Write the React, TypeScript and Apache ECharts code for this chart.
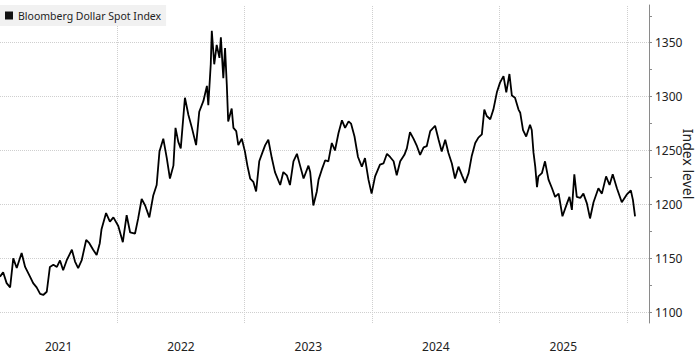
import React, { useEffect, useRef } from "react";
import * as echarts from "echarts";

const SERIES_NAME = "Bloomberg Dollar Spot Index";
const Y_AXIS_TITLE = "Index level";
const X_START = "2021-01-30";
const X_END = "2026-03-05";
const Y_MIN = 1090;
const Y_MAX = 1385;

const yearLabels = ["2021", "2022", "2023", "2024", "2025"];
const yearGridDates = ["2022-01-01", "2023-01-01", "2024-01-01", "2025-01-01", "2026-01-01"];
const yMajorTicks = [1100, 1150, 1200, 1250, 1300, 1350];
const yMinorTicks = [1125, 1175, 1225, 1275, 1325, 1375];

const dates = [
  "2021-01-30", "2021-02-08", "2021-02-18", "2021-02-28", "2021-03-09", "2021-03-19", "2021-04-02", "2021-04-12",
  "2021-04-26", "2021-05-05", "2021-05-15", "2021-05-25", "2021-06-03", "2021-06-13", "2021-06-22", "2021-07-02",
  "2021-07-12", "2021-07-21", "2021-07-30", "2021-08-09", "2021-08-24", "2021-09-02", "2021-09-11", "2021-09-21",
  "2021-10-04", "2021-10-13", "2021-10-24", "2021-11-03", "2021-11-12", "2021-11-17", "2021-11-30", "2021-12-11",
  "2021-12-21", "2022-01-04", "2022-01-17", "2022-01-28", "2022-02-07", "2022-02-21", "2022-03-02", "2022-03-12",
  "2022-03-22", "2022-04-03", "2022-04-14", "2022-04-24", "2022-05-02", "2022-05-13", "2022-05-23", "2022-06-01",
  "2022-06-11", "2022-06-17", "2022-06-25", "2022-07-02", "2022-07-14", "2022-07-24", "2022-08-03", "2022-08-15",
  "2022-08-24", "2022-09-05", "2022-09-15", "2022-09-19", "2022-09-26", "2022-09-29", "2022-10-06", "2022-10-13",
  "2022-10-21", "2022-10-25", "2022-11-01", "2022-11-06", "2022-11-11", "2022-11-15", "2022-11-25", "2022-11-30",
  "2022-12-08", "2022-12-14", "2022-12-24", "2023-01-02", "2023-01-09", "2023-01-17", "2023-01-26", "2023-02-03",
  "2023-02-12", "2023-02-22", "2023-03-01", "2023-03-10", "2023-03-20", "2023-03-29", "2023-04-13", "2023-04-22",
  "2023-05-02", "2023-05-11", "2023-05-21", "2023-05-31", "2023-06-09", "2023-06-19", "2023-07-03", "2023-07-08",
  "2023-07-17", "2023-07-27", "2023-08-01", "2023-08-10", "2023-08-20", "2023-08-29", "2023-09-08", "2023-09-17",
  "2023-09-27", "2023-10-07", "2023-10-16", "2023-10-26", "2023-11-02", "2023-11-12", "2023-11-22", "2023-12-03",
  "2023-12-12", "2023-12-22", "2023-12-31", "2024-01-10", "2024-01-24", "2024-02-03", "2024-02-13", "2024-02-22",
  "2024-03-03", "2024-03-12", "2024-03-22", "2024-04-03", "2024-04-10", "2024-04-19", "2024-04-29", "2024-05-09",
  "2024-05-18", "2024-05-28", "2024-06-06", "2024-06-16", "2024-06-30", "2024-07-10", "2024-07-19", "2024-07-29",
  "2024-08-07", "2024-08-17", "2024-08-26", "2024-09-05", "2024-09-15", "2024-09-24", "2024-10-04", "2024-10-13",
  "2024-10-23", "2024-11-01", "2024-11-11", "2024-11-18", "2024-11-25", "2024-12-05", "2024-12-14", "2024-12-24",
  "2025-01-02", "2025-01-12", "2025-01-20", "2025-01-29", "2025-02-05", "2025-02-14", "2025-02-24", "2025-03-01",
  "2025-03-09", "2025-03-18", "2025-03-29", "2025-04-03", "2025-04-08", "2025-04-13", "2025-04-18", "2025-04-22",
  "2025-05-02", "2025-05-11", "2025-05-21", "2025-05-31", "2025-06-09", "2025-06-19", "2025-06-30", "2025-07-13",
  "2025-07-20", "2025-07-27", "2025-08-03", "2025-08-10", "2025-08-20", "2025-08-29", "2025-09-08", "2025-09-17",
  "2025-09-27", "2025-10-11", "2025-10-21", "2025-11-02", "2025-11-12", "2025-11-21", "2025-12-03", "2025-12-17",
  "2025-12-31", "2026-01-12", "2026-01-18", "2026-01-24",
];

const indexLevels = [
  1133, 1137, 1127, 1123, 1150, 1141, 1155, 1142,
  1133, 1127, 1123, 1117, 1116, 1119, 1142, 1144,
  1142, 1148, 1139, 1148, 1158, 1147, 1141, 1148,
  1167, 1164, 1158, 1153, 1164, 1177, 1192, 1184,
  1188, 1180, 1165, 1190, 1174, 1173, 1187, 1205,
  1199, 1188, 1208, 1218, 1249, 1261, 1243, 1224,
  1236, 1271, 1258, 1252, 1299, 1283, 1271, 1255,
  1286, 1296, 1310, 1292, 1330, 1361, 1330, 1348,
  1336, 1355, 1317, 1345, 1311, 1277, 1289, 1271,
  1268, 1255, 1261, 1249, 1236, 1224, 1221, 1212,
  1240, 1249, 1255, 1260, 1243, 1230, 1218, 1230,
  1227, 1218, 1240, 1247, 1236, 1224, 1236, 1230,
  1199, 1212, 1223, 1232, 1241, 1240, 1257, 1250,
  1266, 1278, 1271, 1277, 1275, 1263, 1244, 1235,
  1243, 1223, 1210, 1226, 1237, 1238, 1247, 1244,
  1240, 1227, 1240, 1246, 1252, 1267, 1261, 1254,
  1246, 1253, 1254, 1268, 1273, 1260, 1249, 1260,
  1248, 1238, 1224, 1235, 1227, 1220, 1229, 1245,
  1257, 1262, 1265, 1288, 1282, 1279, 1288, 1304,
  1313, 1319, 1304, 1321, 1301, 1299, 1288, 1285,
  1269, 1263, 1274, 1269, 1248, 1235, 1216, 1226,
  1229, 1240, 1223, 1215, 1207, 1210, 1189, 1201,
  1207, 1195, 1228, 1207, 1206, 1210, 1201, 1187,
  1202, 1215, 1210, 1226, 1218, 1228, 1215, 1202,
  1209, 1213, 1204, 1189,
];

const FONT = "Noto Sans";
const toTs = (s: string) => new Date(s + "T00:00:00").getTime();

export default function App() {
  const ref = useRef<HTMLDivElement>(null);

  useEffect(() => {
    if (!ref.current) return;
    const chart = echarts.init(ref.current, undefined, { renderer: "svg" });

    const startTs = toTs(X_START);
    const endTs = toTs(X_END);
    const yearMids = yearLabels.map((y) => {
      const a = Math.max(toTs(`${y}-01-01`), startTs);
      const b = Math.min(toTs(`${Number(y) + 1}-01-01`), endTs);
      return (a + b) / 2;
    });

    const gridStyle = { color: "#cfcfcf", type: "dotted" as const, width: 1 };

    chart.setOption({
      animation: false,
      backgroundColor: "#ffffff",
      textStyle: { fontFamily: FONT },
      grid: { left: 0, right: 51, top: 5, bottom: 33, containLabel: false, outerBoundsMode: "none" },
      legend: {
        show: true,
        left: 0,
        top: 5,
        padding: [5, 5, 5, 5],
        itemWidth: 8,
        itemHeight: 8,
        backgroundColor: "#f1f1f1",
        data: [{ name: SERIES_NAME, icon: "rect", itemStyle: { color: "#111" } }],
        textStyle: { fontFamily: FONT, fontSize: 10.5, color: "#222" },
        selectedMode: false,
      },
      graphic: [
        {
          type: "text",
          x: 688,
          y: 164,
          rotation: -Math.PI / 2,
          silent: true,
          style: {
            text: Y_AXIS_TITLE,
            fontFamily: FONT,
            fontSize: 14,
            fill: "#222",
            align: "center",
            verticalAlign: "middle",
          },
        },
      ],
      xAxis: {
        type: "value",
        min: startTs,
        max: endTs,
        axisLine: { show: false },
        axisTick: { show: false },
        splitLine: { show: false },
        axisLabel: {
          customValues: yearMids,
          formatter: (v: number) => String(new Date(v).getFullYear()),
          margin: 17,
          fontFamily: FONT,
          fontSize: 12,
          color: "#222",
        },
      },
      yAxis: {
        type: "value",
        position: "right",
        min: Y_MIN,
        max: Y_MAX,
        axisLine: { show: true, lineStyle: { color: "#8a8a8a", width: 1 } },
        axisTick: {
          show: true,
          customValues: [...yMajorTicks, ...yMinorTicks].sort((a, b) => a - b),
          length: 3,
          lineStyle: { color: "#8a8a8a" },
        },
        axisLabel: {
          customValues: yMajorTicks,
          formatter: (v: number) => String(v),
          margin: 6,
          fontFamily: FONT,
          fontSize: 12,
          color: "#222",
        },
        splitLine: { show: false },
      },
      series: [
        {
          name: SERIES_NAME,
          type: "line",
          color: "#000",
          showSymbol: false,
          symbol: "none",
          lineStyle: { color: "#000", width: 1.8 },
          data: dates.map((d, i) => [toTs(d), indexLevels[i]]),
          markLine: {
            silent: true,
            symbol: "none",
            z: 1,
            label: { show: false },
            lineStyle: gridStyle,
            emphasis: { disabled: true },
            data: [
              ...yearGridDates.map((d) => ({ xAxis: toTs(d) })),
              ...yMajorTicks.map((v) => ({ yAxis: v })),
            ],
          },
        },
      ],
    });

    return () => chart.dispose();
  }, []);

  return (
    <div
      ref={ref}
      style={{ position: "fixed", left: 0, top: 0, width: 700, height: 356, background: "#fff" }}
    />
  );
}
